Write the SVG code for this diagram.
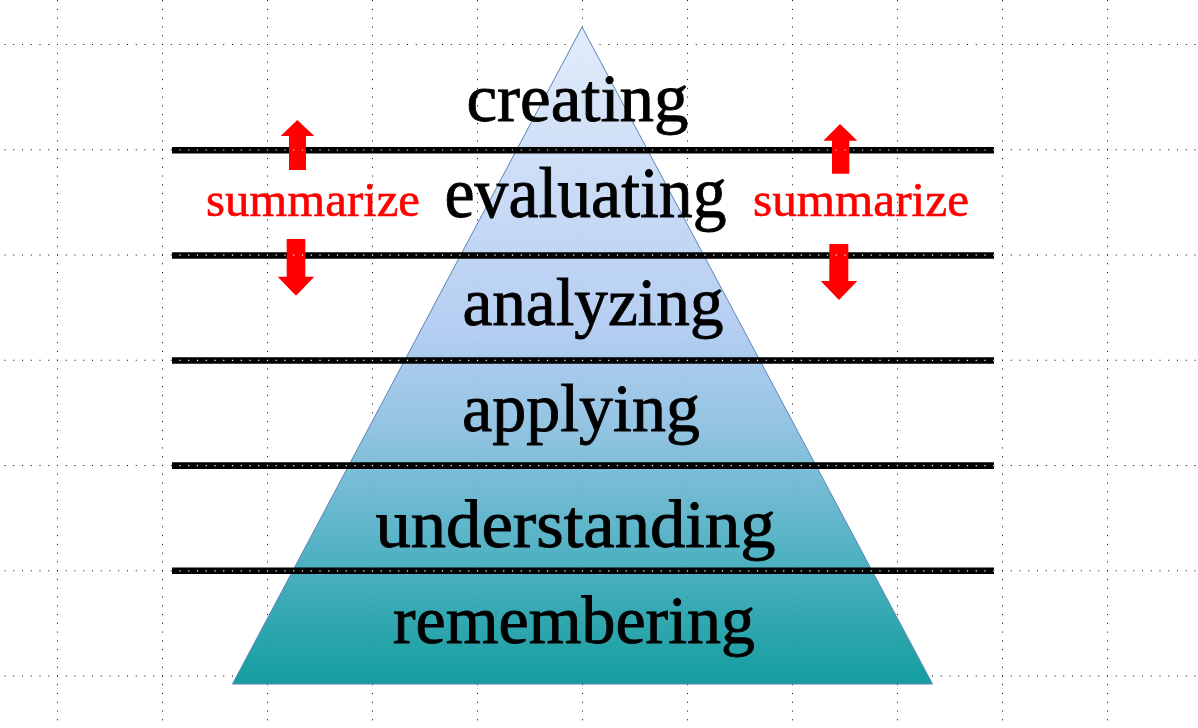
<svg xmlns="http://www.w3.org/2000/svg" width="1198" height="728" viewBox="0 0 1198 728">
<style>
.gh{stroke:#000;stroke-width:1;stroke-dasharray:1 7.75;fill:none}
.gv{stroke:#000;stroke-width:1;stroke-dasharray:1 7.77;fill:none}
.wd{stroke:#fff;stroke-width:1.2;stroke-dasharray:1.2 7.55;fill:none}
.bar{stroke:#000;stroke-width:6.6;fill:none}
.lbl{font-family:"Liberation Serif","DejaVu Serif",serif;font-size:68px;fill:#000;stroke:#000;stroke-width:0.9}
.sum{font-family:"Liberation Serif","DejaVu Serif",serif;font-size:48px;fill:#f00;stroke:#f00;stroke-width:0.6}
.arr{fill:#f00;stroke:none}
</style>
<defs>
<linearGradient id="pg" x1="0" y1="27" x2="0" y2="684" gradientUnits="userSpaceOnUse">
<stop offset="0" stop-color="#e0eafa"/>
<stop offset="0.45" stop-color="#b1cbf1"/>
<stop offset="0.6" stop-color="#8ec0e1"/>
<stop offset="0.8" stop-color="#45acbf"/>
<stop offset="1" stop-color="#029697"/>
</linearGradient>
</defs>
<rect width="1198" height="728" fill="#fff"/>
<g id="grid">
<line class="gh" x1="-4.25" y1="44.5" x2="1198" y2="44.5"/>
<line class="gh" x1="-4.25" y1="149.75" x2="1198" y2="149.75"/>
<line class="gh" x1="-4.25" y1="255" x2="1198" y2="255"/>
<line class="gh" x1="-4.25" y1="360.25" x2="1198" y2="360.25"/>
<line class="gh" x1="-4.25" y1="465.5" x2="1198" y2="465.5"/>
<line class="gh" x1="-4.25" y1="570.75" x2="1198" y2="570.75"/>
<line class="gh" x1="-4.25" y1="676" x2="1198" y2="676"/>
<line class="gv" x1="57.5" y1="-8.62" x2="57.5" y2="728"/>
<line class="gv" x1="162.5" y1="-8.62" x2="162.5" y2="728"/>
<line class="gv" x1="267.5" y1="-8.62" x2="267.5" y2="728"/>
<line class="gv" x1="372.5" y1="-8.62" x2="372.5" y2="728"/>
<line class="gv" x1="477.5" y1="-8.62" x2="477.5" y2="728"/>
<line class="gv" x1="582.5" y1="-8.62" x2="582.5" y2="728"/>
<line class="gv" x1="687.5" y1="-8.62" x2="687.5" y2="728"/>
<line class="gv" x1="792.5" y1="-8.62" x2="792.5" y2="728"/>
<line class="gv" x1="897.5" y1="-8.62" x2="897.5" y2="728"/>
<line class="gv" x1="1002.5" y1="-8.62" x2="1002.5" y2="728"/>
<line class="gv" x1="1107.5" y1="-8.62" x2="1107.5" y2="728"/>
</g>
<g id="pyramid">
<polygon points="582,27 232.5,684 932.5,684" fill="url(#pg)" fill-opacity="0.93" stroke="#5a86b8" stroke-width="1"/>
</g>
<g id="labels">
<text id="creating" class="lbl" x="466.5" y="121" textLength="222" lengthAdjust="spacingAndGlyphs">creating</text>
<text id="evaluating" class="lbl" x="444.5" y="217" textLength="282" lengthAdjust="spacingAndGlyphs" style="font-size:71px">evaluating</text>
<text id="analyzing" class="lbl" x="462.5" y="325" textLength="261" lengthAdjust="spacingAndGlyphs">analyzing</text>
<text id="applying" class="lbl" x="462" y="431" textLength="238" lengthAdjust="spacingAndGlyphs">applying</text>
<text id="understanding" class="lbl" x="375.5" y="546.5" textLength="400" lengthAdjust="spacingAndGlyphs">understanding</text>
<text id="remembering" class="lbl" x="393" y="643" textLength="362" lengthAdjust="spacingAndGlyphs">remembering</text>
</g>
<g id="connectors">
<line class="bar" x1="172" y1="150.3" x2="994" y2="150.3"/>
<line class="bar" x1="172" y1="255.5" x2="994" y2="255.5"/>
<line class="bar" x1="172" y1="360.5" x2="994" y2="360.5"/>
<line class="bar" x1="172" y1="465.6" x2="994" y2="465.6"/>
<line class="bar" x1="172" y1="570.7" x2="994" y2="570.7"/>
</g>
<g id="arrows">
<polygon class="arr" points="297.3,120 314.3,136 306,136 306,170 289,170 289,136 280.7,136"/>
<polygon class="arr" points="286.7,239 305.3,239 305.3,276.7 314.3,276.7 296,295.7 277.7,276.7 286.7,276.7"/>
<polygon class="arr" points="840,124 857.3,140.7 849.3,140.7 849.3,173.7 832,173.7 832,140.7 823.3,140.7"/>
<polygon class="arr" points="829.3,244 848.3,244 848.3,281 857.3,281 839,300 820.7,281 829.3,281"/>
</g>
<g id="bar-dots">
<line class="wd" x1="179.4" y1="150" x2="994" y2="150"/>
<line class="wd" x1="179.4" y1="255.2" x2="994" y2="255.2"/>
<line class="wd" x1="179.4" y1="360.4" x2="994" y2="360.4"/>
<line class="wd" x1="179.4" y1="465.6" x2="994" y2="465.6"/>
<line class="wd" x1="179.4" y1="570.8" x2="994" y2="570.8"/>
</g>
<g id="summarize-left">
<text class="sum" x="206" y="216" textLength="214" lengthAdjust="spacingAndGlyphs">summarize</text>
</g>
<g id="summarize-right">
<text class="sum" x="753" y="216" textLength="216" lengthAdjust="spacingAndGlyphs">summarize</text>
</g>
</svg>
